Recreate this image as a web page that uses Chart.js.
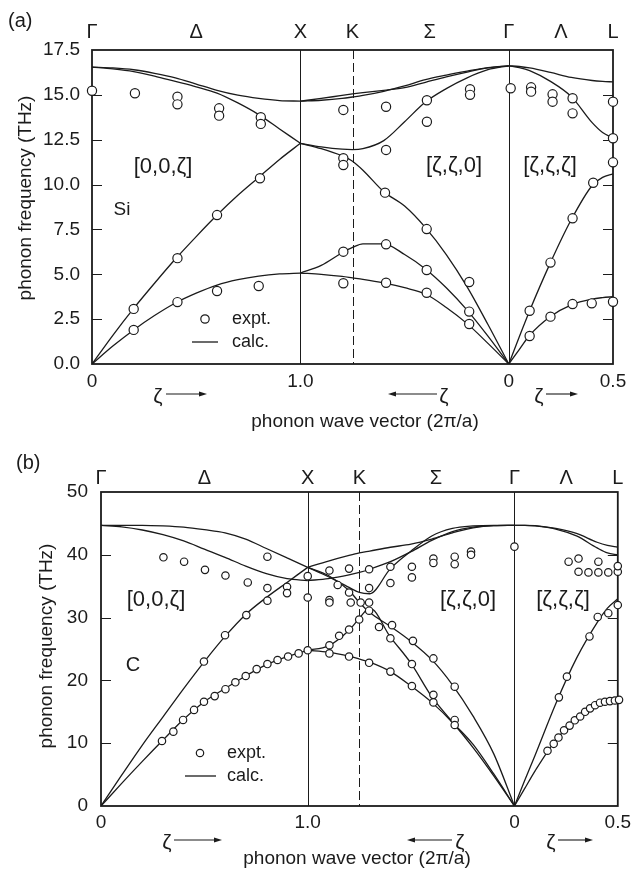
<!DOCTYPE html>
<html>
<head>
<meta charset="utf-8">
<script src="https://cdn.jsdelivr.net/npm/chart.js@4.4.1/dist/chart.umd.min.js"></script>
<style>
  html, body { margin: 0; padding: 0; background: #fff; }
  .panel { position: relative; width: 636px; }
</style>
</head>
<body>
<div class="panel" style="height:435px"><canvas id="si-chart"></canvas></div>
<div class="panel" style="height:434px"><canvas id="c-chart"></canvas></div>
<script>
// path coordinate: 0..1 = Gamma-X [0,0,z], 1..2 = X-K-Gamma [z,z,0] (z 1->0), 2..2.5 = Gamma-L [z,z,z]
const pathTicks = [0, 1, 2, 2.5]
const pathTickLabels = ['0', '1.0', '0', '0.5']
const symbolTicks = [0, 0.5, 1, 1.25, 1.62, 2, 2.25, 2.5]
const symbolLabels = ['Γ', 'Δ', 'X', 'K', 'Σ', 'Γ', 'Λ', 'L']
const guideLines = [1, 1.25, 2]

const deltaX = [0, 0.1, 0.2, 0.3, 0.4, 0.5, 0.6, 0.7, 0.8, 0.9, 1.0]
const sigmaX = [1.0, 1.1, 1.2, 1.25, 1.3, 1.4, 1.5, 1.6, 1.7, 1.8, 1.9, 2.0]
const lambdaX = [2.0, 2.05, 2.1, 2.2, 2.3, 2.4, 2.45, 2.5]

// ---- Si (a), THz
const siYTicks = [0, 2.5, 5, 7.5, 10, 12.5, 15, 17.5]
const siDeltaTA = [0, 1.0, 1.9, 2.7, 3.4, 3.95, 4.4, 4.7, 4.9, 5.02, 5.07]
const siDeltaLA = [0, 1.6, 3.1, 4.5, 5.85, 7.1, 8.3, 9.4, 10.4, 11.4, 12.3]
const siDeltaTO = [16.55, 16.5, 16.4, 16.2, 15.95, 15.6, 15.25, 14.98, 14.8, 14.68, 14.65]
const siDeltaLO = [16.55, 16.45, 16.3, 16.05, 15.75, 15.45, 15.1, 14.55, 13.9, 13.1, 12.3]
const siSigmaA = [14.65, 14.8, 14.97, 15.05, 15.12, 15.25, 15.4, 15.7, 16.0, 16.27, 16.5, 16.62]
const siSigmaB = [14.65, 14.7, 14.8, 14.88, 14.97, 15.2, 15.5, 15.85, 16.1, 16.32, 16.52, 16.62]
const siSigmaC = [12.3, 12.1, 11.97, 11.95, 12.0, 12.45, 13.5, 14.6, 15.35, 15.95, 16.4, 16.62]
const siSigmaD = [12.3, 12.0, 11.6, 11.3, 10.8, 9.6, 8.8, 7.6, 6.1, 4.3, 2.2, 0]
const siSigmaE = [5.07, 5.5, 6.2, 6.5, 6.7, 6.7, 6.1, 5.3, 4.25, 3.0, 1.55, 0]
const siSigmaF = [5.07, 5.0, 4.88, 4.8, 4.72, 4.52, 4.25, 3.9, 3.15, 2.25, 1.15, 0]
const siLambdaTO = [16.62, 16.58, 16.5, 16.25, 15.97, 15.8, 15.75, 15.72]
const siLambdaLO = [16.62, 16.52, 16.35, 15.75, 14.9, 13.45, 12.9, 12.6]
const siLambdaLA = [0, 1.5, 2.97, 5.65, 8.05, 9.95, 10.4, 10.6]
const siLambdaTA = [0, 0.8, 1.6, 2.65, 3.3, 3.62, 3.7, 3.75]
const siExptX = [0, 0.206, 0.41, 0.41, 0.61, 0.61, 0.81, 0.81, 0.2, 0.41, 0.6, 0.8, 0.2, 0.41, 0.6, 0.806,
  1.206, 1.411, 1.607, 1.607, 1.814, 1.814, 1.411, 1.206, 1.206, 1.406, 1.206, 1.206, 1.411, 1.411, 1.606, 1.606, 1.606, 1.81, 1.81, 1.81,
  2.009, 2.107, 2.107, 2.21, 2.21, 2.306, 2.306, 2.5, 2.5, 2.5, 2.405, 2.306, 2.2, 2.1, 2.1, 2.2, 2.306, 2.398, 2.5]
const siExptY = [15.23, 15.09, 14.9, 14.47, 14.25, 13.84, 13.75, 13.38, 1.9, 3.45, 4.07, 4.35, 3.07, 5.9, 8.3, 10.35,
  14.16, 14.34, 14.7, 13.5, 15.31, 15.0, 11.93, 11.47, 11.09, 9.55, 6.26, 4.5, 6.67, 4.53, 7.52, 5.24, 3.97, 4.57, 2.92, 2.23,
  15.37, 15.42, 15.18, 15.03, 14.62, 14.81, 13.97, 14.62, 12.58, 11.24, 10.1, 8.12, 5.65, 2.97, 1.56, 2.64, 3.34, 3.38, 3.47]

// ---- C (b), THz
const cYTicks = [0, 10, 20, 30, 40, 50]
const cDeltaTA = [0, 3.6, 7.1, 10.5, 13.8, 16.6, 18.7, 20.7, 22.5, 23.8, 24.8]
const cDeltaLA = [0, 4.9, 9.7, 14.2, 18.7, 23.0, 27.0, 30.5, 33.2, 35.6, 38.0]
const cDeltaLO = [44.7, 44.7, 44.7, 44.6, 44.4, 44.0, 43.5, 42.5, 41.0, 39.5, 38.0]
const cDeltaTO = [44.7, 44.45, 43.95, 43.2, 42.2, 40.9, 39.6, 38.2, 37.0, 36.2, 35.9]
const cSigmaA = [38.0, 39.0, 39.9, 40.3, 40.6, 41.2, 41.7, 42.5, 43.5, 44.3, 44.65, 44.7]
const cSigmaB = [35.9, 36.2, 36.8, 37.2, 37.7, 38.9, 40.5, 42.3, 43.7, 44.4, 44.65, 44.7]
const cSigmaC = [38.0, 36.5, 34.8, 34.0, 33.8, 37.8, 40.6, 43.0, 44.2, 44.6, 44.7, 44.7]
const cSigmaD = [38.0, 36.7, 34.3, 32.4, 30.8, 28.6, 26.2, 23.3, 19.3, 14.3, 8.3, 0]
const cSigmaE = [24.8, 25.5, 28.0, 29.9, 31.5, 26.9, 22.7, 17.4, 13.4, 9.8, 5.1, 0]
const cSigmaF = [24.8, 24.5, 23.85, 23.4, 22.9, 21.4, 19.1, 16.5, 13.3, 9.3, 4.8, 0]
const cLambdaTO = [44.7, 44.7, 44.65, 44.2, 43.4, 42.0, 41.5, 41.2]
const cLambdaLO = [44.7, 44.7, 44.6, 44.1, 43.0, 41.1, 40.3, 40.0]
const cLambdaLA = [0, 4.1, 8.1, 16.3, 23.5, 29.2, 31.5, 33.0]
const cLambdaTA = [0, 2.8, 5.6, 10.5, 13.85, 16.1, 16.7, 16.95]
const cExptX = [0.302, 0.402, 0.503, 0.602, 0.71, 0.805, 0.805, 0.9, 0.9, 1.0, 1.0,
  0.498, 0.6, 0.703, 0.805,
  0.295, 0.35, 0.397, 0.45, 0.498, 0.55, 0.602, 0.65, 0.7, 0.753, 0.805, 0.854, 0.905, 0.956, 1.0,
  1.105, 1.105, 1.105, 1.105, 1.105, 1.145, 1.152, 1.2, 1.2, 1.2, 1.2, 1.208, 1.249, 1.256,
  1.297, 1.297, 1.297, 1.297, 1.297, 1.345, 1.4, 1.4, 1.408, 1.4, 1.4,
  1.504, 1.504, 1.509, 1.504, 1.504, 1.608, 1.608, 1.608, 1.608, 1.608,
  1.711, 1.711, 1.711, 1.711, 1.711, 1.79, 1.79,
  2.0, 2.262, 2.31, 2.406, 2.31, 2.358, 2.406, 2.454, 2.5, 2.5,
  2.215, 2.254, 2.363, 2.403, 2.454, 2.5,
  2.16, 2.19, 2.213, 2.24, 2.267, 2.292, 2.318, 2.342, 2.366, 2.39, 2.414, 2.438, 2.462, 2.486, 2.506]
const cExptY = [39.6, 38.9, 37.6, 36.7, 35.6, 39.7, 34.7, 34.9, 33.9, 36.6, 33.2,
  23.0, 27.2, 30.4, 32.7,
  10.35, 11.84, 13.7, 15.3, 16.6, 17.5, 18.6, 19.7, 20.7, 21.8, 22.6, 23.25, 23.8, 24.3, 24.8,
  37.5, 32.8, 32.4, 25.6, 24.3, 35.2, 27.1, 37.8, 34.0, 28.1, 23.8, 32.4, 29.7, 32.4,
  37.7, 34.7, 32.4, 31.1, 22.8, 28.5, 38.1, 35.5, 28.8, 26.7, 21.4,
  38.1, 36.4, 26.3, 22.6, 19.1, 39.4, 38.7, 23.5, 17.7, 16.5,
  39.7, 38.5, 19.0, 13.7, 12.9, 40.5, 40.0,
  41.3, 38.9, 39.4, 38.9, 37.3, 37.2, 37.2, 37.2, 37.3, 38.2,
  17.3, 20.6, 27.0, 30.1, 30.7, 32.0,
  8.8, 9.9, 10.9, 12.05, 12.8, 13.65, 14.25, 15.0, 15.55, 16.05, 16.45, 16.6, 16.7, 16.8, 16.9]

const ink = '#1b1b1b'
Chart.defaults.font.family = "'Liberation Sans', Arial, sans-serif"
Chart.defaults.color = ink

const curve = (xs, ys) => ({
  data: xs.map((x, i) => ({ x, y: ys[i] })),
  showLine: true, pointRadius: 0, borderColor: ink, borderWidth: 1.3,
  cubicInterpolationMode: 'monotone', order: 1
})

const dots = (xs, ys, r) => ({
  data: xs.map((x, i) => ({ x, y: ys[i] })),
  showLine: false, pointRadius: r, pointBackgroundColor: '#fff',
  pointBorderColor: ink, pointBorderWidth: 1.2, clip: false, order: 0
})

const arrow = (ctx, x1, x2, y) => {
  const d = Math.sign(x2 - x1)
  ctx.beginPath(); ctx.moveTo(x1, y); ctx.lineTo(x2 - d * 5, y); ctx.lineWidth = 1.1; ctx.stroke()
  ctx.beginPath(); ctx.moveTo(x2, y); ctx.lineTo(x2 - d * 8, y - 2.5); ctx.lineTo(x2 - d * 8, y + 2.5); ctx.closePath(); ctx.fill()
}

const framePlugin = {
  id: 'frame',
  beforeDatasetsDraw(chart, args, o) {
    const { ctx, chartArea: a, scales: { x, y } } = chart
    ctx.save()
    ctx.strokeStyle = ink
    guideLines.forEach(v => {
      const px = Math.round(x.getPixelForValue(v)) + 0.5
      ctx.beginPath()
      ctx.setLineDash(v === 1.25 ? [9, 4] : [])
      ctx.lineWidth = 1
      ctx.moveTo(px, a.top); ctx.lineTo(px, a.bottom); ctx.stroke()
    })
    ctx.setLineDash([])
    ctx.beginPath()
    ctx.lineWidth = 1.2
    o.ticks.forEach(v => {
      if (v <= y.min || v >= y.max) return
      const py = Math.round(y.getPixelForValue(v)) + 0.5
      ctx.moveTo(a.left, py); ctx.lineTo(a.left + 10, py)
      ctx.moveTo(a.right, py); ctx.lineTo(a.right - 10, py)
    })
    ctx.stroke()
    ctx.lineWidth = 1.8
    ctx.strokeRect(a.left, a.top, a.width, a.height)
    ctx.restore()
  },
  afterDraw(chart, args, o) {
    const { ctx } = chart
    const f = s => s + "px 'Liberation Sans', Arial, sans-serif"
    ctx.save()
    ctx.fillStyle = ink; ctx.strokeStyle = ink
    ctx.textBaseline = 'middle'
    ctx.textAlign = 'left'
    ctx.font = f(20); ctx.fillText(o.tag[0], o.tag[1], o.tag[2])
    ctx.textAlign = 'center'
    o.labels.forEach(l => { ctx.font = f(l[3]); ctx.fillText(l[0], l[1], l[2]) })
    // legend
    const g = o.legend
    ctx.beginPath(); ctx.lineWidth = 1.2; ctx.arc(g.dot[0], g.dot[1], g.r, 0, Math.PI * 2); ctx.stroke()
    ctx.beginPath(); ctx.lineWidth = 1.3; ctx.moveTo(g.line[0], g.line[2]); ctx.lineTo(g.line[1], g.line[2]); ctx.stroke()
    ctx.font = f(18); ctx.textAlign = 'left'
    ctx.fillText('expt.', g.textX, g.dot[1])
    ctx.fillText('calc.', g.textX, g.line[2])
    // zeta arrows
    ctx.textAlign = 'center'; ctx.font = f(21)
    o.arrows.forEach(r => { ctx.fillText('ζ', r[0], r[3] + 3); arrow(ctx, r[1], r[2], r[3]) })
    // axis titles
    ctx.font = f(19)
    ctx.fillText('phonon wave vector (2π/a)', o.xTitle[0], o.xTitle[1])
    ctx.translate(o.yTitle[0], o.yTitle[1]); ctx.rotate(-Math.PI / 2)
    ctx.fillText('phonon frequency (THz)', 0, 0)
    ctx.restore()
  }
}

const makeChart = (id, p) => new Chart(document.getElementById(id), {
  type: 'scatter',
  data: { datasets: p.datasets },
  plugins: [framePlugin],
  options: {
    responsive: true, maintainAspectRatio: false, animation: false,
    layout: { padding: { left: 0, right: p.rightPad, top: 0, bottom: 0 } },
    plugins: { legend: { display: false }, tooltip: { enabled: false }, frame: p.notes },
    scales: {
      x: {
        type: 'linear', position: 'bottom', min: 0, max: 2.5,
        afterBuildTicks: s => { s.ticks = pathTicks.map(v => ({ value: v })) },
        afterFit: s => { s.height = p.bottomH },
        ticks: { autoSkip: false, maxRotation: 0, padding: p.bottomPad, font: { size: 19 }, callback: (v, i) => pathTickLabels[i] },
        grid: { display: false, drawTicks: false }, border: { display: false }
      },
      top: {
        type: 'linear', position: 'top', min: 0, max: 2.5,
        afterBuildTicks: s => { s.ticks = symbolTicks.map(v => ({ value: v })) },
        afterFit: s => { s.height = p.topH },
        ticks: { autoSkip: false, maxRotation: 0, padding: p.topPad, font: { size: 20 }, callback: (v, i) => symbolLabels[i] },
        grid: { display: false, drawTicks: false }, border: { display: false }
      },
      y: {
        type: 'linear', position: 'left', min: 0, max: p.yTicks[p.yTicks.length - 1],
        afterBuildTicks: s => { s.ticks = p.yTicks.map(v => ({ value: v })) },
        afterFit: s => { s.width = p.leftW },
        ticks: { padding: p.leftPad, font: { size: 19 }, callback: v => p.yFmt(v) },
        grid: { display: false, drawTicks: false }, border: { display: false }
      }
    }
  }
})

makeChart('si-chart', {
  yTicks: siYTicks, yFmt: v => v.toFixed(1),
  leftW: 92, rightPad: 23, topH: 50, bottomH: 71, topPad: 6, bottomPad: 6, leftPad: 12,
  datasets: [
    dots(siExptX, siExptY, 4.6),
    curve(deltaX, siDeltaTA), curve(deltaX, siDeltaLA), curve(deltaX, siDeltaTO), curve(deltaX, siDeltaLO),
    curve(sigmaX, siSigmaA), curve(sigmaX, siSigmaB), curve(sigmaX, siSigmaC),
    curve(sigmaX, siSigmaD), curve(sigmaX, siSigmaE), curve(sigmaX, siSigmaF),
    curve(lambdaX, siLambdaTO), curve(lambdaX, siLambdaLO), curve(lambdaX, siLambdaLA), curve(lambdaX, siLambdaTA)
  ],
  notes: {
    ticks: siYTicks,
    tag: ['(a)', 8, 21],
    labels: [['[0,0,ζ]', 163, 167, 22], ['Si', 122, 210, 19], ['[ζ,ζ,0]', 454, 166, 22], ['[ζ,ζ,ζ]', 550, 166, 22]],
    legend: { dot: [205, 319], r: 4.2, line: [192, 218, 342], textX: 232 },
    arrows: [[158, 166, 207, 394], [444, 437, 388, 394], [539, 546, 578, 394]],
    xTitle: [365, 422], yTitle: [26, 198]
  }
})

makeChart('c-chart', {
  yTicks: cYTicks, yFmt: v => String(v),
  leftW: 101, rightPad: 13, topH: 57, bottomH: 63, topPad: 2, bottomPad: 5, leftPad: 13,
  datasets: [
    dots(cExptX, cExptY, 3.7),
    curve(deltaX, cDeltaTA), curve(deltaX, cDeltaLA), curve(deltaX, cDeltaLO), curve(deltaX, cDeltaTO),
    curve(sigmaX, cSigmaA), curve(sigmaX, cSigmaB), curve(sigmaX, cSigmaC),
    curve(sigmaX, cSigmaD), curve(sigmaX, cSigmaE), curve(sigmaX, cSigmaF),
    curve(lambdaX, cLambdaTO), curve(lambdaX, cLambdaLO), curve(lambdaX, cLambdaLA), curve(lambdaX, cLambdaTA)
  ],
  notes: {
    ticks: cYTicks,
    tag: ['(b)', 16, 28],
    labels: [['[0,0,ζ]', 156, 165, 22], ['C', 133, 230, 20], ['[ζ,ζ,0]', 468, 165, 22], ['[ζ,ζ,ζ]', 563, 165, 22]],
    legend: { dot: [200, 318], r: 3.7, line: [185, 216, 341], textX: 227 },
    arrows: [[167, 174, 222, 405], [460, 452, 407, 405], [551, 558, 593, 405]],
    xTitle: [357, 424], yTitle: [47, 211]
  }
})
</script>
</body>
</html>
